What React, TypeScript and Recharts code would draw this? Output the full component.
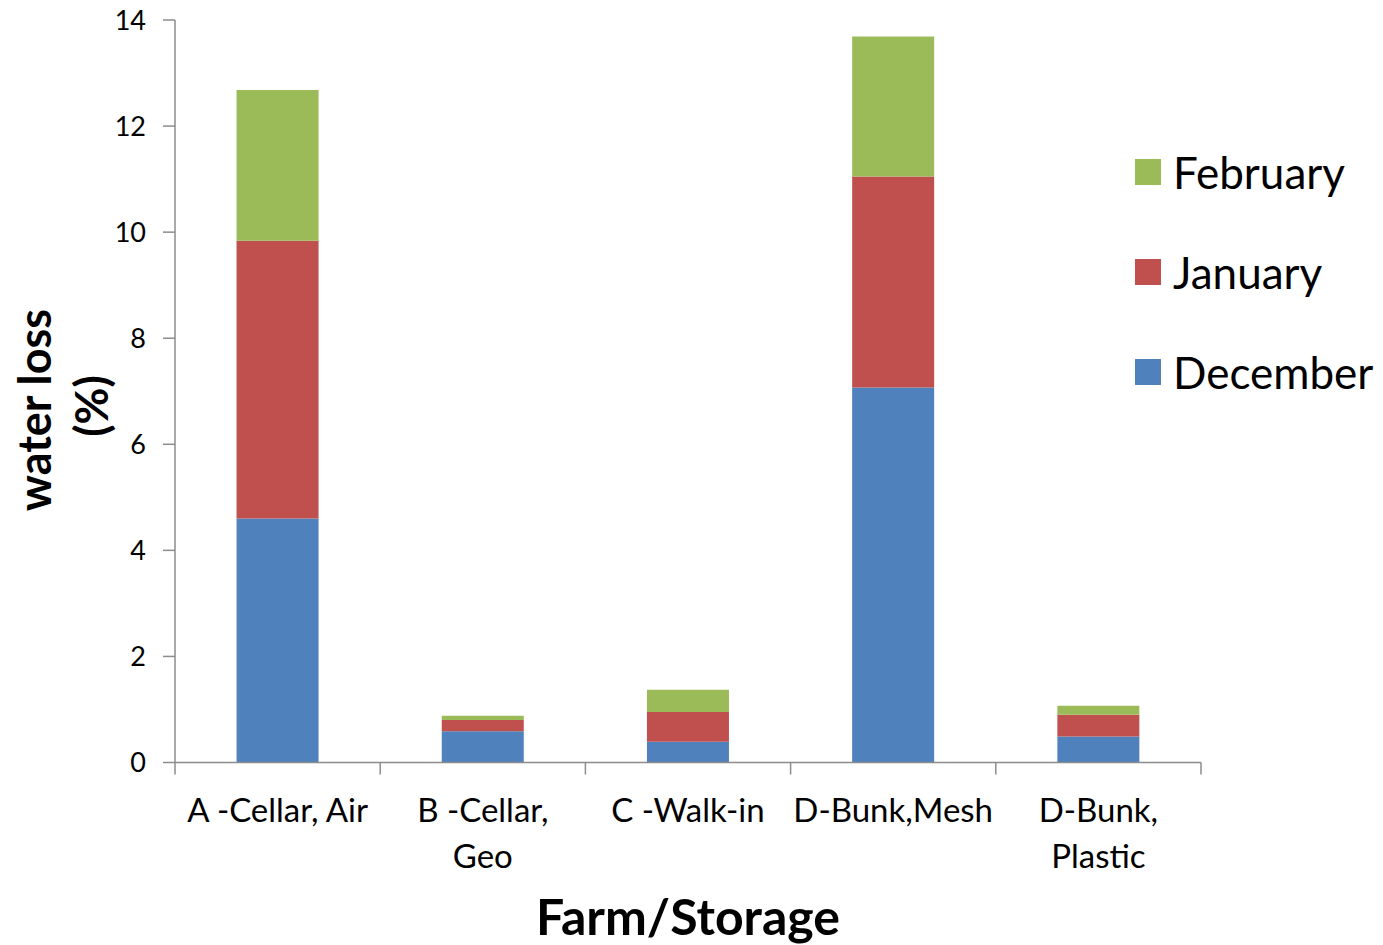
import { BarChart, Bar, XAxis, YAxis, Label } from "recharts"

const categories = ["A -Cellar, Air", "B -Cellar, Geo", "C -Walk-in", "D-Bunk,Mesh", "D-Bunk, Plastic"]
const tickLines = [["A -Cellar, Air"], ["B -Cellar,", "Geo"], ["C -Walk-in"], ["D-Bunk,Mesh"], ["D-Bunk,", "Plastic"]]
const december = [4.6, 0.59, 0.39, 7.07, 0.49]
const january = [5.24, 0.21, 0.56, 3.98, 0.41]
const february = [2.84, 0.08, 0.42, 2.64, 0.17]
const yTicks = [0, 2, 4, 6, 8, 10, 12, 14]

const data = categories.map((name, i) => ({
  name,
  December: december[i],
  January: january[i],
  February: february[i],
}))

const W = 1383
const H = 945
const PLOT_LEFT = 175
const PLOT_TOP = 20
const PLOT_RIGHT = 1201
const PLOT_BOTTOM = 762.5
const Y_AXIS_W = 60
const X_AXIS_H = 60
const BAND = (PLOT_RIGHT - PLOT_LEFT) / categories.length

const FONT = "Lato, 'Noto Sans', sans-serif"
const AXIS = "#8c8c8c"

// legend order runs top-down from the top of the stack
const SERIES = [
  { key: "February", color: "#9BBB59" },
  { key: "January", color: "#C0504D" },
  { key: "December", color: "#4F81BD" },
]

function CategoryTick(props: any) {
  const { x, index } = props
  const lines = tickLines[index] || []
  const left = x - BAND / 2
  return (
    <g>
      <line x1={left} x2={left} y1={PLOT_BOTTOM} y2={PLOT_BOTTOM + 12} stroke={AXIS} strokeWidth={1.5} />
      {index === categories.length - 1 && (
        <line x1={x + BAND / 2} x2={x + BAND / 2} y1={PLOT_BOTTOM} y2={PLOT_BOTTOM + 12} stroke={AXIS} strokeWidth={1.5} />
      )}
      {lines.map((t, i) => (
        <text key={i} x={x} y={PLOT_BOTTOM + 59 + i * 46} textAnchor="middle" fontSize={33} fill="#000" fontFamily={FONT}>
          {t}
        </text>
      ))}
    </g>
  )
}

function YTitle() {
  return (
    <g fontFamily={FONT} fontWeight={700} fontSize={45} fill="#000" textAnchor="middle">
      <text transform="translate(51, 410) rotate(-90)">water loss</text>
      <text transform="translate(108, 406) rotate(-90)">(%)</text>
    </g>
  )
}

function LegendBox() {
  return (
    <div style={{ position: "absolute", left: 1135, top: 146, fontFamily: FONT, fontSize: 44, lineHeight: "52px" }}>
      {SERIES.map((s) => (
        <div key={s.key} style={{ display: "flex", alignItems: "center", height: 52, marginBottom: 48 }}>
          <span style={{ width: 26, height: 26, background: s.color, display: "inline-block", marginRight: 12 }} />
          <span>{s.key}</span>
        </div>
      ))}
    </div>
  )
}

export default function App() {
  return (
    <div style={{ position: "absolute", left: 0, top: 0, width: W, height: H, background: "#fff" }}>
      <BarChart
        width={W}
        height={H}
        data={data}
        barCategoryGap="30%"
        margin={{ top: PLOT_TOP, right: W - PLOT_RIGHT, left: PLOT_LEFT - Y_AXIS_W, bottom: H - PLOT_BOTTOM - X_AXIS_H }}
      >
        <XAxis
          dataKey="name"
          height={X_AXIS_H}
          tickLine={false}
          interval={0}
          stroke={AXIS}
          strokeWidth={1.5}
          tick={<CategoryTick />}
        >
          <Label
            content={() => (
              <text x={688} y={935} textAnchor="middle" fontFamily={FONT} fontWeight={700} fontSize={50} fill="#000">
                Farm/Storage
              </text>
            )}
          />
        </XAxis>
        <YAxis
          width={Y_AXIS_W}
          domain={[0, 14]}
          ticks={yTicks}
          tickSize={12}
          tickMargin={17}
          stroke={AXIS}
          strokeWidth={1.5}
          tick={{ fill: "#000", fontSize: 27, fontFamily: FONT }}
        >
          <Label content={() => <YTitle />} />
        </YAxis>
        <Bar dataKey="December" stackId="a" fill="#4F81BD" isAnimationActive={false} />
        <Bar dataKey="January" stackId="a" fill="#C0504D" isAnimationActive={false} />
        <Bar dataKey="February" stackId="a" fill="#9BBB59" isAnimationActive={false} />
      </BarChart>
      <LegendBox />
    </div>
  )
}
